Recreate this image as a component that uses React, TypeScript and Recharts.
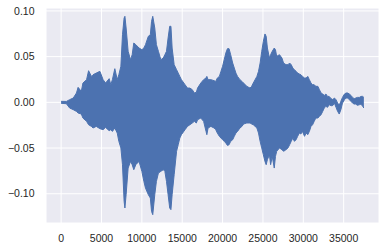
import React from "react";
import { AreaChart, Area, XAxis, YAxis, CartesianGrid } from "recharts";

// sample index of each envelope reading
const samples = [
  0, 650, 1050, 1500, 1900, 2100, 2500, 2700, 3150, 3400, 3750, 3950, 4350, 4800,
  5200, 5500, 5950, 6150, 6350, 6650, 6950, 7150, 7400, 7600, 7800, 7900, 8050,
  8300, 8600, 8800, 9000, 9250, 9650, 10000, 10250, 10450, 10800, 11050, 11200,
  11350, 11600, 11800, 12050, 12350, 12650, 12850, 13050, 13250, 13450, 13600,
  13750, 14000, 14300, 14500, 14700, 14900, 15350, 15650, 15950, 16250, 16500,
  16750, 16900, 17300, 17650, 17950, 18050, 18200, 18550, 18950, 19150, 19350,
  19600, 19800, 20000, 20200, 20400, 20600, 20800, 21000, 21250, 21450, 21650,
  21850, 22150, 22400, 22600, 23000, 23400, 23600, 23800, 24250, 24450, 24650,
  24850, 25050, 25250, 25400, 25550, 25800, 25950, 26150, 26400, 26550, 26700,
  27050, 27350, 27550, 27850, 28100, 28300, 28500, 28700, 28900, 29100, 29300,
  29500, 29700, 29900, 30150, 30350, 30550, 30750, 30950, 31150, 31350, 31550,
  31800, 32000, 32200, 32400, 32600, 32800, 33000, 33200, 33450, 33650, 33850,
  34050, 34250, 34450, 34650, 34850, 35100, 35300, 35500, 35700, 35900, 36100,
  36300, 36500, 36700, 36950, 37150, 37350, 37500,
];

// upper envelope of the waveform
const upper = [
  0.0011, 0.001, 0.0029, 0.0047, 0.0102, 0.0164, 0.012, 0.0211, 0.0248, 0.0346,
  0.0284, 0.0302, 0.032, 0.0339, 0.0248, 0.0211, 0.0259, 0.0193, 0.0248, 0.0368,
  0.0248, 0.0302, 0.0394, 0.074, 0.0922, 0.0941, 0.0813, 0.0558, 0.0466, 0.0521,
  0.0649, 0.0631, 0.0594, 0.0576, 0.0594, 0.0631, 0.0722, 0.074, 0.0886, 0.0941,
  0.0813, 0.0631, 0.0558, 0.0466, 0.0485, 0.0521, 0.0558, 0.0704, 0.0832, 0.0832,
  0.0594, 0.0412, 0.0357, 0.032, 0.0284, 0.0248, 0.0193, 0.0156, 0.0156, 0.0138,
  0.0102, 0.011, 0.0156, 0.0211, 0.0248, 0.0266, 0.0284, 0.0248, 0.0248, 0.0237,
  0.0229, 0.0266, 0.0284, 0.0339, 0.0394, 0.0467, 0.0539, 0.0587, 0.0587, 0.0521,
  0.043, 0.0375, 0.032, 0.0284, 0.0248, 0.0229, 0.0211, 0.0175, 0.0156, 0.0175,
  0.0211, 0.0284, 0.0339, 0.043, 0.0558, 0.0667, 0.0748, 0.0722, 0.0594, 0.0485,
  0.0521, 0.0558, 0.0594, 0.0576, 0.0503, 0.0521, 0.0485, 0.043, 0.0412, 0.0412,
  0.043, 0.0412, 0.0375, 0.0357, 0.0339, 0.032, 0.031, 0.0302, 0.0284, 0.0266,
  0.0266, 0.0284, 0.0248, 0.0211, 0.0193, 0.0193, 0.0175, 0.0175, 0.0138, 0.0102,
  0.0091, 0.0076, 0.0091, 0.0065, 0.0065, 0.004, 0.003, 0.0047, 0.0029, -0.0008,
  -0.0033, 0.0011, 0.0054, 0.0091, 0.0102, 0.0102, 0.0091, 0.0076, 0.0054, 0.004,
  0.0047, 0.0054, 0.0054, 0.0065, 0.0065, 0.0054,
];

// lower envelope of the waveform
const lower = [
  -0.0011, -0.0015, -0.0062, -0.008, -0.0099, -0.0117, -0.0128, -0.0172, -0.0208,
  -0.0245, -0.0263, -0.0281, -0.0263, -0.0288, -0.0299, -0.0274, -0.031, -0.0299,
  -0.0318, -0.0281, -0.0336, -0.0427, -0.0499, -0.0682, -0.1083, -0.1156, -0.101,
  -0.0719, -0.0646, -0.0682, -0.0737, -0.0682, -0.0646, -0.0755, -0.0865, -0.0938,
  -0.101, -0.1047, -0.1193, -0.1229, -0.101, -0.0865, -0.0774, -0.0755, -0.0737,
  -0.0755, -0.0865, -0.101, -0.1156, -0.1174, -0.101, -0.0792, -0.0536, -0.0464,
  -0.0391, -0.0354, -0.0299, -0.0263, -0.0245, -0.0226, -0.0208, -0.0226, -0.019,
  -0.0172, -0.0208, -0.0318, -0.0354, -0.0281, -0.0263, -0.0281, -0.0299, -0.0336,
  -0.0372, -0.0391, -0.0409, -0.0427, -0.0445, -0.0471, -0.0464, -0.0427, -0.0409,
  -0.0372, -0.0336, -0.0318, -0.0281, -0.0263, -0.0237, -0.0226, -0.0226, -0.0237,
  -0.0245, -0.0281, -0.0336, -0.0427, -0.0499, -0.0573, -0.0646, -0.0682, -0.0627,
  -0.0573, -0.0682, -0.0591, -0.0719, -0.0591, -0.0536, -0.0499, -0.0518, -0.0536,
  -0.0518, -0.0499, -0.0464, -0.0427, -0.0391, -0.0427, -0.0409, -0.0372, -0.0336,
  -0.0346, -0.0318, -0.0372, -0.0336, -0.0354, -0.0318, -0.0263, -0.0245, -0.0208,
  -0.0172, -0.0172, -0.0153, -0.0135, -0.0099, -0.0062, -0.0044, -0.0055, -0.0026,
  -0.0037, -0.0035, -0.0008, -0.0055, -0.0099, -0.0128, -0.0081, -0.0008, 0.0029,
  0.0047, 0.0047, 0.0029, 0.0011, -0.0008, -0.0019, -0.0019, -0.0033, -0.0026,
  -0.0019, -0.0044, -0.0062,
];

const xTicks = [0, 5000, 10000, 15000, 20000, 25000, 30000, 35000];
const yTicks = [-0.1, -0.05, 0, 0.05, 0.1];

const data = samples.map((s, i) => ({ s, band: [lower[i], upper[i]] }));

const fmtY = (v: number) => (v < 0 ? "\u2212" : "") + Math.abs(v).toFixed(2);

const tickStyle = { fill: "#262626", fontSize: 10.5, fontFamily: "Liberation Sans, Arial, sans-serif" };

export default function App() {
  return (
    <div style={{ position: "absolute", left: 0, top: 0 }}>
      <AreaChart
        width={386}
        height={251}
        data={data}
        margin={{ top: 8, right: 7, bottom: 0, left: 0 }}
      >
        <CartesianGrid fill="#EAEAF2" stroke="#ffffff" strokeWidth={1} verticalPoints={undefined} />
        <XAxis
          dataKey="s"
          type="number"
          domain={[-1875, 39375]}
          ticks={xTicks}
          axisLine={false}
          tickLine={false}
          tickSize={0}
          tickMargin={12}
          height={28}
          tick={tickStyle}
          interval={0}
        />
        <YAxis
          type="number"
          domain={[-0.132, 0.1032]}
          ticks={yTicks}
          tickFormatter={fmtY}
          axisLine={false}
          tickLine={false}
          tickSize={0}
          tickMargin={11.5}
          width={46}
          tick={tickStyle}
          interval={0}
        />
        <Area
          type="linear"
          dataKey="band"
          fill="#4C72B0"
          fillOpacity={1}
          stroke="#4C72B0"
          strokeWidth={1}
          isAnimationActive={false}
          dot={false}
          activeDot={false}
        />
      </AreaChart>
    </div>
  );
}
